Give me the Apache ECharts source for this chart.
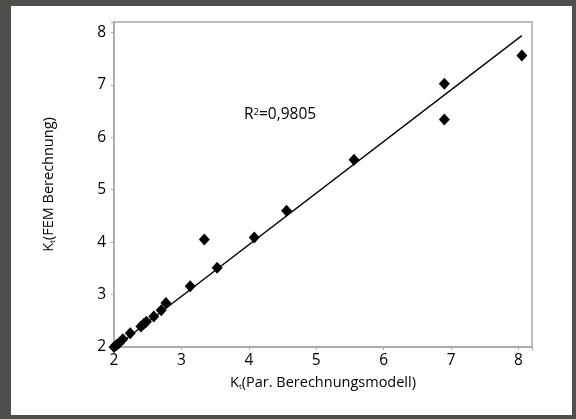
<!DOCTYPE html>
<html>
<head>
<meta charset="utf-8">
<script src="https://cdn.jsdelivr.net/npm/echarts@6/dist/echarts.min.js"></script>
<style>
  html, body { margin: 0; padding: 0; background: #4f4f4c; }
  #frame { position: absolute; left: 11px; top: 6px; width: 561px; height: 409px; background: #fff; }
  #chart { position: absolute; left: 0; top: 0; width: 576px; height: 419px; }
</style>
</head>
<body>
<div id="frame"></div>
<div id="chart"></div>
<script>
// Kt aus parametrischem Modell (x) gegen FEM-Berechnung (y)
var ktModell = [2.00, 2.04, 2.08, 2.13, 2.24, 2.40, 2.44, 2.48, 2.59, 2.70, 2.77, 3.13, 3.34, 3.53, 4.08, 4.56, 5.56, 6.90, 6.90, 8.05];
var ktFem    = [2.00, 2.04, 2.08, 2.15, 2.26, 2.39, 2.44, 2.48, 2.58, 2.70, 2.84, 3.16, 4.05, 3.51, 4.09, 4.60, 5.57, 7.02, 6.34, 7.56];
// Regressionsgerade (Endpunkte)
var trendX = [2.00, 8.05];
var trendY = [1.98, 7.94];
var xTicks = [2, 3, 4, 5, 6, 7, 8];
var yTicks = [2, 3, 4, 5, 6, 7, 8];
var r2Text = '0,9805';

var font = '"Open Sans", "Noto Sans", sans-serif';
var axisGray = '#a8a8a8';

var points = ktModell.map(function (x, i) { return [x, ktFem[i]]; });
var trend = trendX.map(function (x, i) { return [x, trendY[i]]; });

function tickFmt(list) {
  return function (v) { return list.indexOf(v) >= 0 ? String(v) : ''; };
}

var myChart = echarts.init(document.getElementById('chart'));
var option = {
  animation: false,
  textStyle: { fontFamily: font },
  grid: {
    left: 114, right: 44, top: 22, bottom: 72,
    show: true, borderColor: axisGray, borderWidth: 1.5
  },
  graphic: [{
    type: 'text',
    left: 244, top: 107,
    style: {
      text: '{n|R}{sup|2}{n|=' + r2Text + '}',
      rich: {
        n: { fontSize: 15.5, fontFamily: font, fill: '#000' },
        sup: { fontSize: 9.5, fontFamily: font, fill: '#000', verticalAlign: 'top', padding: [0, 0, 6, 0] }
      }
    }
  }],
  xAxis: {
    type: 'value', min: 2, max: 8.2, interval: 1,
    name: 'K{sub|t}(Par. Berechnungsmodell)',
    nameLocation: 'middle', nameGap: 28,
    nameTextStyle: {
      fontSize: 14.5, color: '#000', fontFamily: font,
      rich: { sub: { fontSize: 8, verticalAlign: 'bottom', padding: [8, 0, 0, 0], fontFamily: font, color: '#000' } }
    },
    axisLine: { lineStyle: { color: axisGray, width: 1.5 } },
    axisTick: { show: true, length: 3, lineStyle: { color: axisGray } },
    axisLabel: { fontSize: 15.5, color: '#000', margin: 6, formatter: tickFmt(xTicks) },
    splitLine: { show: false }
  },
  yAxis: {
    type: 'value', min: 2, max: 8.2, interval: 1,
    name: 'K{sub|t}(FEM Berechnung)',
    nameLocation: 'middle', nameGap: 57,
    nameTextStyle: {
      fontSize: 14.5, color: '#000', fontFamily: font,
      rich: { sub: { fontSize: 8, verticalAlign: 'bottom', padding: [8, 0, 0, 0], fontFamily: font, color: '#000' } }
    },
    axisLine: { lineStyle: { color: axisGray, width: 1.5 } },
    axisTick: { show: true, length: 3, lineStyle: { color: axisGray } },
    axisLabel: { fontSize: 15.5, color: '#000', margin: 8, formatter: tickFmt(yTicks) },
    splitLine: { show: false }
  },
  series: [
    {
      type: 'line',
      data: trend,
      symbol: 'none',
      lineStyle: { color: '#000', width: 1.3 },
      z: 2
    },
    {
      type: 'scatter',
      data: points,
      symbol: 'diamond',
      symbolSize: [11, 12],
      itemStyle: { color: '#000', opacity: 1 },
      z: 3
    }
  ]
};
myChart.setOption(option);
</script>
</body>
</html>
